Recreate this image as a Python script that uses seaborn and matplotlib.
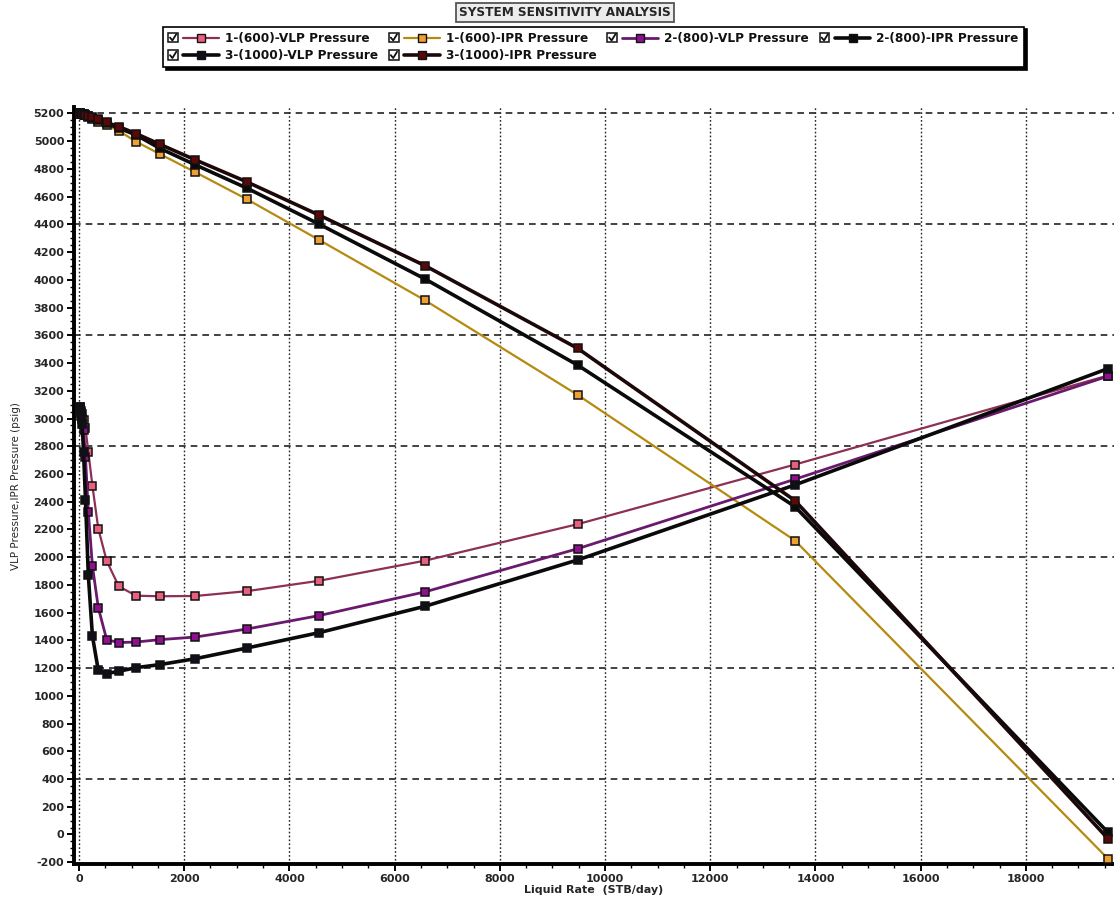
import numpy as np
import pandas as pd
import matplotlib
matplotlib.use("Agg")
import matplotlib.pyplot as plt
import seaborn as sns
from matplotlib.legend_handler import HandlerBase
from matplotlib.patches import Rectangle
from matplotlib.lines import Line2D
from matplotlib.ticker import MultipleLocator

# ---- data: liquid rate (STB/day) and pressures (psig) ----
rates = [20, 29, 42, 60, 87, 124, 178, 256, 367, 527, 756, 1085, 1535,
         2215, 3195, 4570, 6580, 9480, 13610, 19560]

vlp_600 = [3080, 3070, 3055, 3030, 2990, 2928, 2760, 2514, 2206, 1973, 1790,
           1722, 1718, 1720, 1755, 1830, 1975, 2238, 2668, 3310]
ipr_600 = [5200, 5199, 5198, 5196, 5192, 5186, 5176, 5160, 5140, 5115, 5075,
           4997, 4908, 4776, 4581, 4287, 3852, 3170, 2120, -175]
vlp_800 = [3075, 3060, 3040, 3000, 2920, 2723, 2326, 1937, 1636, 1405, 1384,
           1388, 1405, 1424, 1482, 1579, 1750, 2061, 2562, 3305]
ipr_800 = [5200, 5199, 5198, 5197, 5194, 5190, 5183, 5170, 5152, 5128, 5095,
           5045, 4949, 4829, 4661, 4401, 4006, 3385, 2365, 15]
vlp_1000 = [3080, 3060, 3020, 2960, 2760, 2411, 1869, 1431, 1184, 1160, 1177,
            1203, 1225, 1268, 1345, 1456, 1646, 1980, 2521, 3360]
ipr_1000 = [5200, 5199, 5198, 5197, 5195, 5191, 5185, 5173, 5157, 5135, 5105,
            5055, 4978, 4865, 4706, 4466, 4102, 3506, 2408, -30]

series_names = ["1-(600)-VLP Pressure", "1-(600)-IPR Pressure",
                "2-(800)-VLP Pressure", "2-(800)-IPR Pressure",
                "3-(1000)-VLP Pressure", "3-(1000)-IPR Pressure"]
series_values = [vlp_600, ipr_600, vlp_800, ipr_800, vlp_1000, ipr_1000]

# line colour, marker fill, line width
styles = {
    "1-(600)-VLP Pressure": ("#8e2f55", "#e8607e", 1.6),
    "1-(600)-IPR Pressure": ("#b58a10", "#f0a032", 1.6),
    "2-(800)-VLP Pressure": ("#6a1a6e", "#8e108e", 2.0),
    "2-(800)-IPR Pressure": ("#0a0a0a", "#0a0a0a", 2.6),
    "3-(1000)-VLP Pressure": ("#0a0a0a", "#101018", 2.6),
    "3-(1000)-IPR Pressure": ("#1c0808", "#5a0808", 2.6),
}

df = pd.concat(
    [pd.DataFrame({"rate": rates, "pressure": vals, "series": name})
     for name, vals in zip(series_names, series_values)],
    ignore_index=True,
)

sns.set_theme(style="white")
plt.rcParams["font.family"] = ["DejaVu Sans"]
plt.rcParams["axes.unicode_minus"] = False

fig = plt.figure(figsize=(11.14, 9.05), dpi=100)
ax = fig.add_axes([0.0664, 0.045, 0.9336, 0.8365])

handles = {}
for name in series_names:
    lc, mf, lw = styles[name]
    sub = df[df["series"] == name]
    n_before = len(ax.get_lines())
    sns.lineplot(data=sub, x="rate", y="pressure", ax=ax, color=lc,
                 linewidth=lw, marker="s", markersize=5.6,
                 markerfacecolor=mf, markeredgecolor="#111111",
                 markeredgewidth=1.1, estimator=None, sort=False,
                 legend=False, zorder=3)
    handles[name] = ax.get_lines()[n_before]

ax.set_xlim(-95, 19675)
ax.set_ylim(-215, 5245)

# grid: dotted verticals at every 2000, dashed horizontals every 800
for xv in np.arange(0, 19000, 2000):
    ax.axvline(xv, color="#222222", lw=1.0, ls=(0, (1.2, 1.6)), zorder=1)
for yv in np.arange(400, 5201, 800):
    ax.axhline(yv, color="#222222", lw=1.2, ls=(0, (4, 3)), zorder=1)

ax.xaxis.set_major_locator(MultipleLocator(2000))
ax.xaxis.set_minor_locator(MultipleLocator(500))
ax.yaxis.set_major_locator(MultipleLocator(200))
ax.yaxis.set_minor_locator(MultipleLocator(50))
ax.tick_params(axis="both", which="major", direction="out", length=5,
               width=1.4, labelsize=8, color="black", pad=2,
               left=True, bottom=True)
ax.tick_params(axis="both", which="minor", direction="out", length=3,
               width=1.0, color="black", left=True, bottom=True)
for lab in ax.get_xticklabels() + ax.get_yticklabels():
    lab.set_fontweight("bold")

for side in ("top", "right"):
    ax.spines[side].set_visible(False)
for side in ("left", "bottom"):
    ax.spines[side].set_color("black")
    ax.spines[side].set_linewidth(2.8)

ax.set_xlabel("Liquid Rate  (STB/day)", fontsize=8, fontweight="bold",
              labelpad=1)
ax.set_ylabel("VLP Pressure,IPR Pressure (psig)", fontsize=7.5, labelpad=9)


class CheckedLineHandler(HandlerBase):
    """Legend key: a ticked checkbox followed by a line with a square marker."""

    def create_artists(self, legend, orig_handle, xdescent, ydescent,
                       width, height, fontsize, trans):
        s = fontsize * 0.8
        bx0 = -xdescent
        by0 = -ydescent + (height - s) / 2
        box = Rectangle((bx0, by0), s, s, facecolor="white",
                        edgecolor="#111111", lw=1.1, transform=trans)
        tick = Line2D([bx0 + 0.2 * s, bx0 + 0.45 * s, bx0 + 0.85 * s],
                      [by0 + 0.5 * s, by0 + 0.2 * s, by0 + 0.85 * s],
                      color="#111111", lw=1.3, transform=trans)
        lx0 = bx0 + s + fontsize * 0.45
        lx1 = -xdescent + width
        ym = -ydescent + height / 2
        line = Line2D([lx0, lx1], [ym, ym], color=orig_handle.get_color(),
                      lw=orig_handle.get_linewidth(), transform=trans)
        mk = Line2D([(lx0 + lx1) / 2], [ym], marker="s", markersize=5.5,
                    markerfacecolor=orig_handle.get_markerfacecolor(),
                    markeredgecolor="#111111", markeredgewidth=1.0,
                    transform=trans)
        return [box, tick, line, mk]


# row-major order for a 4-column legend (matplotlib fills column by column)
order = [0, 4, 1, 5, 2, 3]
leg_handles = [handles[series_names[i]] for i in order]
leg_labels = [series_names[i] for i in order]
leg = fig.legend(leg_handles, leg_labels, ncol=4, loc="upper left",
                 bbox_to_anchor=(0.1463, 0.9705), frameon=True,
                 fancybox=False, shadow={"color": "black", "alpha": 1.0},
                 prop={"size": 8.7, "weight": "bold"},
                 handlelength=4.2, handletextpad=0.5,
                 columnspacing=0.9, labelspacing=0.38, borderpad=0.42,
                 borderaxespad=0.0,
                 handler_map={Line2D: CheckedLineHandler()})
leg.get_frame().set_edgecolor("black")
leg.get_frame().set_linewidth(1.2)
for t in leg.get_texts():
    t.set_color("#111111")

fig.text(0.507, 0.9865, "SYSTEM SENSITIVITY ANALYSIS", ha="center",
         va="center", fontsize=9.6, fontweight="bold", fontstretch="condensed",
         bbox=dict(boxstyle="square,pad=0.22", facecolor="#ececec",
                   edgecolor="#555555", linewidth=1.3))

fig.savefig("out.png", dpi=100)
